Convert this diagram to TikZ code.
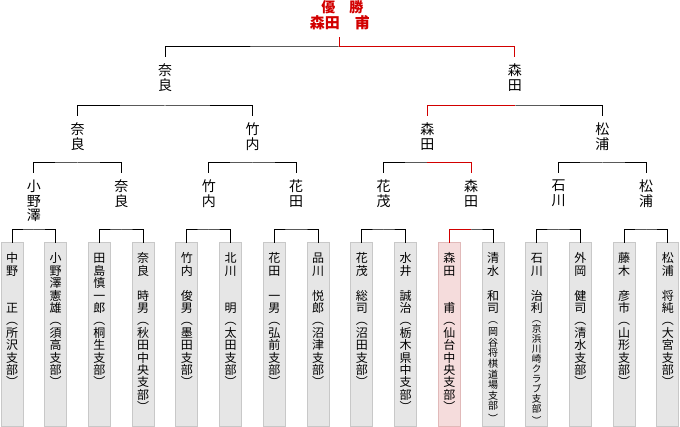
\documentclass[tikz,border=0pt]{standalone}
\usepackage{fontspec}
\setmainfont{Noto Sans CJK JP}
\usetikzlibrary{calc, positioning}
\definecolor{boxfill}{RGB}{230,230,230}
\definecolor{boxline}{RGB}{200,200,200}
\definecolor{winfill}{RGB}{245,220,220}
\definecolor{winline}{RGB}{225,185,185}
\definecolor{winred}{RGB}{210,0,0}

\begin{document}
\begin{tikzpicture}[
  x=1pt, y=1pt, line width=1pt,
  node distance=21.73pt,
  pbox/.style={rectangle, draw=boxline, fill=boxfill, anchor=north,
               text width=12pt, align=center, inner xsep=5pt, inner ysep=0pt,
               outer sep=0pt, text height=20pt, text depth=163pt,
               font=\fontsize{12}{12.4}\selectfont},
  wbox/.style={pbox, draw=winline, fill=winfill},
  lbl/.style={text width=14pt, align=center, inner sep=0pt, outer ysep=7pt,
              anchor=north, font=\fontsize{14}{14.5}\selectfont},
  champ/.style={inner sep=0pt, outer ysep=7pt, anchor=south, text=winred,
                font=\fontsize{15}{15}\selectfont\bfseries},
  ttl/.style={inner sep=0pt, text=winred,
              font=\fontsize{14}{14}\selectfont\bfseries},
  win/.style={draw=winred}
]
\useasboundingbox (0,0) rectangle (680,-427);

% Players, left to right
\node[pbox] (p1) at (12,-243) {中\\野\\　\\　\\正\\︵\\所\\沢\\支\\部\\︶};
\node[pbox, right=of p1] (p2) {小\\野\\澤\\憲\\雄\\︵\\須\\高\\支\\部\\︶};
\node[pbox, right=of p2] (p3) {田\\島\\慎\\一\\郎\\︵\\桐\\生\\支\\部\\︶};
\node[pbox, right=of p3] (p4) {奈\\良\\　\\時\\男\\︵\\秋\\田\\中\\央\\支\\部\\︶};
\node[pbox, right=of p4] (p5) {竹\\内\\　\\俊\\男\\︵\\墨\\田\\支\\部\\︶};
\node[pbox, right=of p5] (p6) {北\\川\\　\\　\\明\\︵\\太\\田\\支\\部\\︶};
\node[pbox, right=of p6] (p7) {花\\田\\　\\一\\男\\︵\\弘\\前\\支\\部\\︶};
\node[pbox, right=of p7] (p8) {品\\川\\　\\悦\\郎\\︵\\沼\\津\\支\\部\\︶};
\node[pbox, right=of p8] (p9) {花\\茂\\　\\総\\司\\︵\\沼\\田\\支\\部\\︶};
\node[pbox, right=of p9] (p10) {水\\井\\　\\誠\\治\\︵\\栃\\木\\県\\中\\支\\部\\︶};
\node[wbox, right=of p10] (p11) {森\\田\\　\\　\\甫\\︵\\仙\\台\\中\\央\\支\\部\\︶};
\node[pbox, right=of p11] (p12) {清\\水\\　\\和\\司\par
  \fontsize{10}{10.6}\selectfont ︵\\[2pt]岡\\谷\\将\\棋\\道\\場\\支\\部\\︶};
\node[pbox, right=of p12] (p13) {石\\川\\　\\治\\利\par
  \fontsize{9.6}{9.9}\selectfont ︵\\[0.5pt]京\\浜\\川\\崎\\ク\\ラ\\ブ\\支\\部\\︶};
\node[pbox, right=of p13] (p14) {外\\岡\\　\\健\\司\\︵\\清\\水\\支\\部\\︶};
\node[pbox, right=of p14] (p15) {藤\\木\\　\\彦\\市\\︵\\山\\形\\支\\部\\︶};
\node[pbox, right=of p15] (p16) {松\\浦\\　\\将\\純\\︵\\大\\宮\\支\\部\\︶};

% First round
\coordinate (b1) at ($(p1.north)!.5!(p2.north)+(0,13)$);
\coordinate (b2) at ($(p3.north)!.5!(p4.north)+(0,13)$);
\coordinate (b3) at ($(p5.north)!.5!(p6.north)+(0,13)$);
\coordinate (b4) at ($(p7.north)!.5!(p8.north)+(0,13)$);
\coordinate (b5) at ($(p9.north)!.5!(p10.north)+(0,13)$);
\coordinate (b6) at ($(p11.north)!.5!(p12.north)+(0,13)$);
\coordinate (b7) at ($(p13.north)!.5!(p14.north)+(0,13)$);
\coordinate (b8) at ($(p15.north)!.5!(p16.north)+(0,13)$);
\draw (p1.north) |- (b1) -| (p2.north);
\draw (p3.north) |- (b2) -| (p4.north);
\draw (p5.north) |- (b3) -| (p6.north);
\draw (p7.north) |- (b4) -| (p8.north);
\draw (p9.north) |- (b5) -| (p10.north);
\draw (p11.north) |- (b6) -| (p12.north);
\draw (p13.north) |- (b7) -| (p14.north);
\draw (p15.north) |- (b8) -| (p16.north);
\node[lbl] (r1) at ($(b1)+(0,57)$) {小\\野\\澤};
\node[lbl] (r2) at ($(b2)+(0,57)$) {奈\\良};
\node[lbl] (r3) at ($(b3)+(0,57)$) {竹\\内};
\node[lbl] (r4) at ($(b4)+(0,57)$) {花\\田};
\node[lbl] (r5) at ($(b5)+(0,57)$) {花\\茂};
\node[lbl] (r6) at ($(b6)+(0,57)$) {森\\田};
\node[lbl] (r7) at ($(b7)+(0,57)$) {石\\川};
\node[lbl] (r8) at ($(b8)+(0,57)$) {松\\浦};

% Second round
\coordinate (c1) at ($(r1.north)!.5!(r2.north)+(0,10)$);
\coordinate (c2) at ($(r3.north)!.5!(r4.north)+(0,10)$);
\coordinate (c3) at ($(r5.north)!.5!(r6.north)+(0,10)$);
\coordinate (c4) at ($(r7.north)!.5!(r8.north)+(0,10)$);
\draw (r1.north) |- (c1) -| (r2.north);
\draw (r3.north) |- (c2) -| (r4.north);
\draw (r5.north) |- (c3) -| (r6.north);
\draw (r7.north) |- (c4) -| (r8.north);
\node[lbl] (q1) at ($(c1)+(0,47)$) {奈\\良};
\node[lbl] (q2) at ($(c2)+(0,47)$) {竹\\内};
\node[lbl] (q3) at ($(c3)+(0,47)$) {森\\田};
\node[lbl] (q4) at ($(c4)+(0,47)$) {松\\浦};

% Semi-finals
\coordinate (d1) at ($(q1.north)!.5!(q2.north)+(0,10)$);
\coordinate (d2) at ($(q3.north)!.5!(q4.north)+(0,10)$);
\draw (q1.north) |- (d1) -| (q2.north);
\draw (q3.north) |- (d2) -| (q4.north);
\node[lbl] (f1) at ($(d1)+(0,49)$) {奈\\良};
\node[lbl] (f2) at ($(d2)+(0,49)$) {森\\田};

% Final and winner
\coordinate (e) at ($(f1.north)!.5!(f2.north)+(0,10)$);
\draw (f1.north) |- (e) -| (f2.north);
\node[champ] (champ) at ($(e)+(0,10)$) {森田　甫};
\node[ttl] (title) at ($(e)+(2.5,40)$) {優　勝};

% Winner's path in red
\draw[win] (p11.north) |- (b6);
\draw[win] (r6.north) |- (c3);
\draw[win] (q3.north) |- (d2);
\draw[win] (f2.north) |- (e) -- (champ.south);

\end{tikzpicture}
\end{document}
